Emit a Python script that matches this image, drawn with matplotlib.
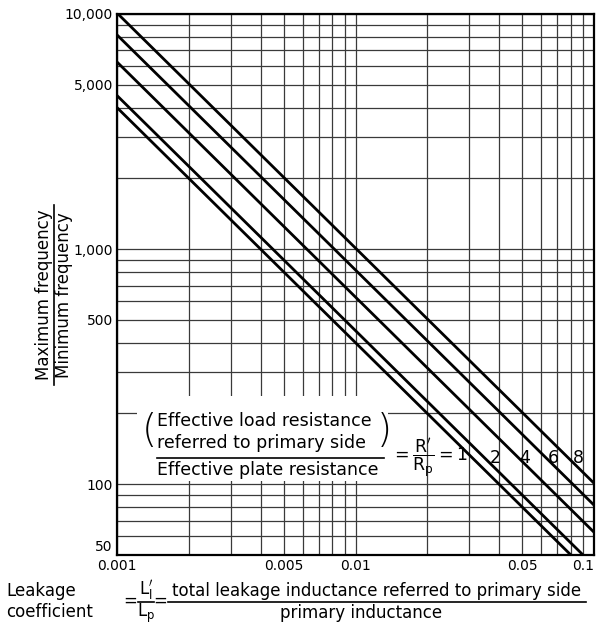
import matplotlib.pyplot as plt
from matplotlib.patches import Rectangle
from matplotlib.lines import Line2D
from matplotlib.ticker import NullFormatter
from matplotlib.transforms import ScaledTranslation

# leakage coefficient at both ends of the chart
k_ends = [0.001, 0.1]
# max/min frequency ratio read at k=0.001 and k=0.1, one per R'/Rp curve
ratios = ['1', '2', '4', '6', '8']
f_at_left = [4000, 4500, 6250, 8150, 10100]
f_at_right = [40, 45, 62.5, 81.5, 101]

yticks = [50, 100, 500, 1000, 5000, 10000]
ytick_labels = ['50', '100', '500', '1,000', '5,000', '10,000']
xticks = [0.001, 0.005, 0.01, 0.05, 0.1]
xtick_labels = ['0.001', '0.005', '0.01', '0.05', '0.1']

W, H = 597, 624
def P(x, y):
    return (x / W, 1 - y / H)

fig = plt.figure(figsize=(W / 100, H / 100), dpi=100)
ax = fig.add_axes([117 / W, 1 - 555 / H, (594 - 117) / W, (555 - 14) / H])
ax.set_xscale('log')
ax.set_yscale('log')
ax.set_xlim(0.001, 0.1)
ax.set_ylim(50, 10000)
ax.set_axisbelow(True)
ax.grid(which='both', color='#3a3a3a', lw=0.9)
ax.tick_params(which='both', length=0, labelsize=10, pad=3)
ax.xaxis.set_minor_formatter(NullFormatter())
ax.yaxis.set_minor_formatter(NullFormatter())
ax.set_xticks(xticks, xtick_labels)
ax.set_yticks(yticks, ytick_labels)
for s in ax.spines.values():
    s.set_linewidth(1.6)

# nudge end labels like the original
lab50 = ax.get_yticklabels()[0]
lab50.set_transform(lab50.get_transform() + ScaledTranslation(0, 7 / 72, fig.dpi_scale_trans))
ax.get_xticklabels()[-1].set_horizontalalignment('right')

for lo, hi in zip(f_at_left, f_at_right):
    ax.plot(k_ends, [lo, hi], color='black', lw=2.0, zorder=3)

# blank area under the annotation
ax.add_patch(Rectangle(P(137, 481), (388 - 137) / W, (481 - 396) / H,
                       transform=fig.transFigure, fc='white', ec='none', zorder=1))

fs = 12
fa = 12.5
fig.text(*P(157, 421), 'Effective load resistance', fontsize=fa, ha='left', va='center')
fig.text(*P(157, 443), 'referred to primary side', fontsize=fa, ha='left', va='center')
fig.text(*P(149, 431), '(', fontsize=28, ha='center', va='center', fontweight='light')
fig.text(*P(384, 431), ')', fontsize=28, ha='center', va='center', fontweight='light')
fig.add_artist(Line2D([157 / W, 384 / W], [1 - 458 / H] * 2, color='black', lw=1.2))
fig.text(*P(157, 470), 'Effective plate resistance', fontsize=fa, ha='left', va='center')
fig.text(*P(391, 458), r"$=\dfrac{\mathrm{R}'}{\mathrm{R_p}}=$1", fontsize=fa, ha='left', va='center')
for lab, x in zip(ratios[1:], [495, 525, 553, 578]):
    fig.text(*P(x, 458), lab, fontsize=fa, ha='center', va='center')

# y axis label as a fraction
fig.text(*P(44, 295), 'Maximum frequency', fontsize=fs, rotation=90, ha='center', va='center')
fig.text(*P(64, 295), 'Minimum frequency', fontsize=fs, rotation=90, ha='center', va='center')
fig.add_artist(Line2D([54 / W] * 2, [1 - 205 / H, 1 - 385 / H], color='black', lw=1.2))

# x axis label
fig.text(*P(6, 591), 'Leakage', fontsize=fs, ha='left', va='center')
fig.text(*P(6, 612), 'coefficient', fontsize=fs, ha='left', va='center')
fig.text(*P(130, 601), '=', fontsize=fs, ha='center', va='center')
fig.text(*P(146, 590), r"$\mathrm{L_l'}$", fontsize=fs, ha='center', va='center')
fig.text(*P(146, 613), r"$\mathrm{L_p}$", fontsize=fs, ha='center', va='center')
fig.add_artist(Line2D([138 / W, 154 / W], [1 - 602 / H] * 2, color='black', lw=1.2))
fig.text(*P(160, 601), '=', fontsize=fs, ha='center', va='center')
fig.text(*P(377, 591), 'total leakage inductance referred to primary side', fontsize=fs, ha='center', va='center')
fig.add_artist(Line2D([168 / W, 586 / W], [1 - 602 / H] * 2, color='black', lw=1.2))
fig.text(*P(361, 613), 'primary inductance', fontsize=fs, ha='center', va='center')

plt.savefig('out.png', dpi=100)
